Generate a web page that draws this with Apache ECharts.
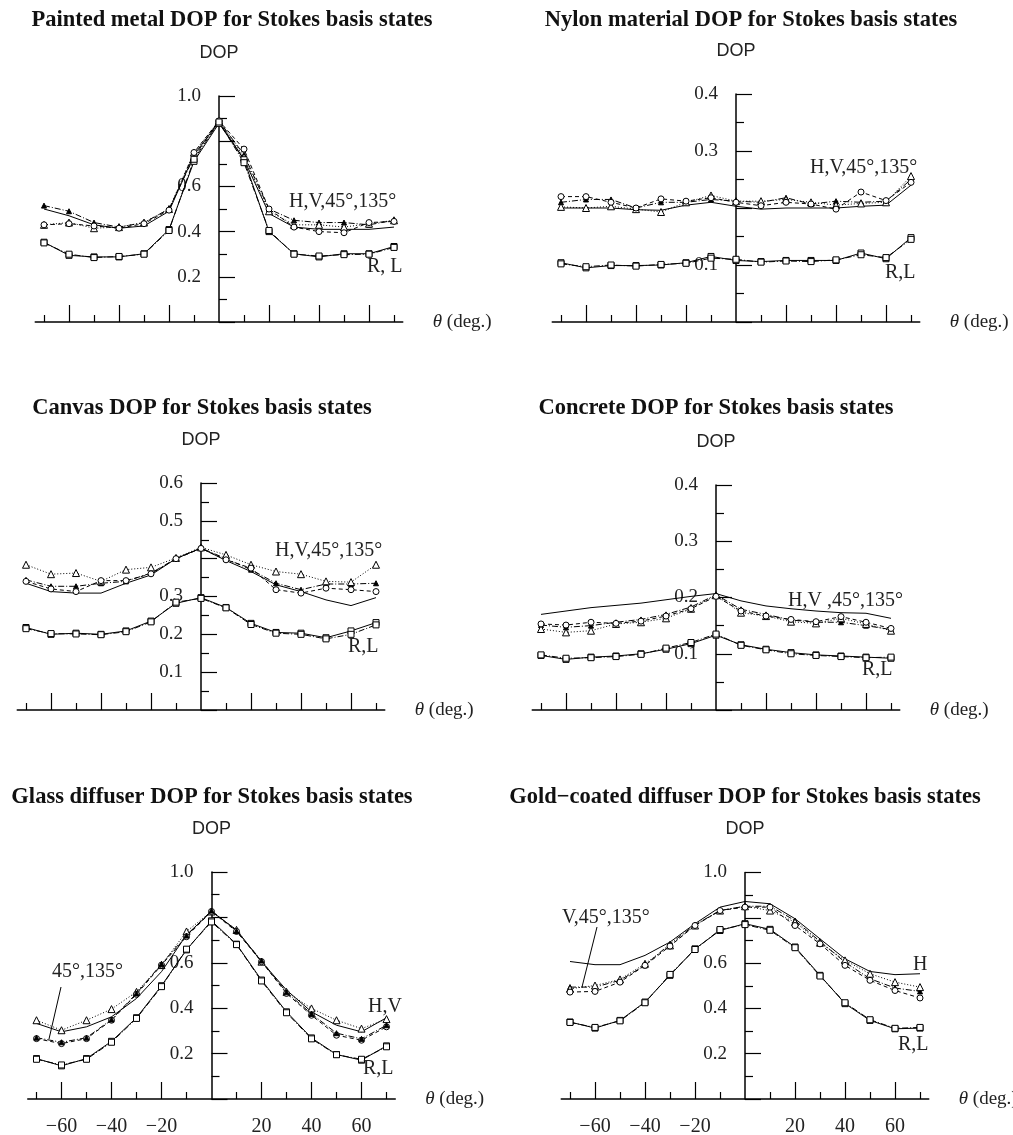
<!DOCTYPE html>
<html>
<head>
<meta charset="utf-8">
<script src="https://cdn.jsdelivr.net/npm/echarts@6/dist/echarts.min.js"></script>
<style>
  html, body { margin: 0; padding: 0; background: #fff; }
  #main { width: 1013px; height: 1135px; }
</style>
</head>
<body>
<div id="main"></div>
<script>
// incidence angle, deg
var theta = [-70, -60, -50, -40, -30, -20, -10, 0, 10, 20, 30, 40, 50, 60, 70];

// painted metal
var paintedH   = [0.500, 0.470, 0.430, 0.415, 0.425, 0.490, 0.740, 0.885, 0.720, 0.480, 0.420, 0.410, 0.410, 0.410, 0.420];
var paintedV   = [0.515, 0.490, 0.440, 0.420, 0.440, 0.500, 0.730, 0.890, 0.740, 0.500, 0.450, 0.440, 0.440, 0.430, 0.450];
var painted45  = [0.430, 0.440, 0.415, 0.420, 0.440, 0.500, 0.750, 0.890, 0.730, 0.490, 0.430, 0.430, 0.420, 0.435, 0.450];
var painted135 = [0.430, 0.435, 0.425, 0.415, 0.435, 0.495, 0.750, 0.890, 0.765, 0.500, 0.420, 0.400, 0.395, 0.440, 0.445];
var paintedR   = [0.353, 0.295, 0.288, 0.288, 0.302, 0.409, 0.711, 0.879, 0.718, 0.400, 0.302, 0.288, 0.302, 0.302, 0.334];
var paintedL   = [0.350, 0.300, 0.285, 0.290, 0.300, 0.405, 0.720, 0.885, 0.705, 0.405, 0.300, 0.292, 0.298, 0.300, 0.330];

// nylon
var nylonH   = [0.200, 0.200, 0.200, 0.197, 0.196, 0.205, 0.210, 0.203, 0.198, 0.200, 0.200, 0.200, 0.203, 0.205, 0.240];
var nylonV   = [0.210, 0.215, 0.215, 0.200, 0.210, 0.210, 0.215, 0.212, 0.210, 0.218, 0.207, 0.212, 0.210, 0.212, 0.250];
var nylon45  = [0.202, 0.200, 0.203, 0.198, 0.193, 0.210, 0.222, 0.212, 0.212, 0.215, 0.210, 0.205, 0.208, 0.210, 0.256];
var nylon135 = [0.220, 0.220, 0.210, 0.200, 0.216, 0.212, 0.218, 0.210, 0.204, 0.210, 0.207, 0.198, 0.228, 0.213, 0.245];
var nylonR   = [0.104, 0.095, 0.099, 0.099, 0.100, 0.104, 0.115, 0.108, 0.106, 0.108, 0.108, 0.108, 0.121, 0.111, 0.148];
var nylonL   = [0.102, 0.097, 0.100, 0.098, 0.101, 0.103, 0.112, 0.110, 0.105, 0.107, 0.106, 0.109, 0.118, 0.113, 0.145];

// canvas
var canvasH   = [0.335, 0.313, 0.309, 0.309, 0.335, 0.357, 0.400, 0.428, 0.395, 0.366, 0.331, 0.313, 0.291, 0.276, 0.297];
var canvasV   = [0.344, 0.327, 0.327, 0.335, 0.340, 0.362, 0.400, 0.428, 0.400, 0.371, 0.335, 0.318, 0.333, 0.333, 0.335];
var canvas45  = [0.384, 0.359, 0.362, 0.340, 0.371, 0.377, 0.402, 0.430, 0.410, 0.384, 0.366, 0.359, 0.340, 0.338, 0.384];
var canvas135 = [0.340, 0.320, 0.313, 0.342, 0.342, 0.360, 0.400, 0.427, 0.397, 0.375, 0.318, 0.309, 0.322, 0.318, 0.313];
var canvasR   = [0.218, 0.200, 0.203, 0.200, 0.209, 0.235, 0.282, 0.297, 0.271, 0.229, 0.205, 0.203, 0.191, 0.209, 0.231];
var canvasL   = [0.215, 0.202, 0.201, 0.199, 0.207, 0.233, 0.285, 0.295, 0.270, 0.226, 0.203, 0.200, 0.188, 0.200, 0.225];

// concrete
var concreteH   = [0.170, 0.176, 0.182, 0.186, 0.190, 0.196, 0.202, 0.207, 0.194, 0.185, 0.180, 0.176, 0.173, 0.172, 0.163];
var concreteV   = [0.151, 0.147, 0.150, 0.156, 0.161, 0.170, 0.183, 0.205, 0.179, 0.170, 0.160, 0.156, 0.156, 0.150, 0.143];
var concrete45  = [0.144, 0.138, 0.141, 0.153, 0.156, 0.163, 0.180, 0.204, 0.173, 0.167, 0.157, 0.154, 0.163, 0.153, 0.141];
var concrete135 = [0.153, 0.151, 0.156, 0.154, 0.158, 0.167, 0.180, 0.202, 0.176, 0.167, 0.161, 0.157, 0.166, 0.156, 0.145];
var concreteR   = [0.097, 0.090, 0.094, 0.096, 0.100, 0.108, 0.118, 0.133, 0.116, 0.108, 0.102, 0.098, 0.096, 0.094, 0.092];
var concreteL   = [0.098, 0.092, 0.093, 0.095, 0.099, 0.110, 0.120, 0.135, 0.115, 0.107, 0.100, 0.097, 0.095, 0.093, 0.094];

// glass diffuser (H,V upper pair, 45°,135° lower pair)
var glassH   = [0.333, 0.296, 0.318, 0.362, 0.443, 0.561, 0.723, 0.826, 0.745, 0.605, 0.480, 0.384, 0.325, 0.296, 0.358];
var glassV   = [0.347, 0.303, 0.347, 0.396, 0.472, 0.590, 0.738, 0.826, 0.745, 0.605, 0.472, 0.399, 0.347, 0.310, 0.352];
var glass45  = [0.266, 0.244, 0.266, 0.347, 0.461, 0.590, 0.715, 0.826, 0.738, 0.605, 0.465, 0.369, 0.281, 0.259, 0.318];
var glass135 = [0.270, 0.250, 0.270, 0.350, 0.465, 0.595, 0.720, 0.830, 0.740, 0.610, 0.470, 0.375, 0.290, 0.265, 0.325];
var glassR   = [0.178, 0.146, 0.178, 0.254, 0.358, 0.499, 0.657, 0.785, 0.682, 0.524, 0.384, 0.269, 0.196, 0.171, 0.234];
var glassL   = [0.175, 0.150, 0.175, 0.250, 0.355, 0.495, 0.660, 0.780, 0.680, 0.520, 0.380, 0.265, 0.195, 0.175, 0.230];

// gold-coated diffuser
var goldH   = [0.607, 0.593, 0.593, 0.634, 0.693, 0.774, 0.847, 0.872, 0.862, 0.796, 0.707, 0.619, 0.563, 0.549, 0.553];
var goldV   = [0.494, 0.494, 0.524, 0.590, 0.685, 0.769, 0.832, 0.851, 0.851, 0.788, 0.696, 0.604, 0.531, 0.490, 0.475];
var gold45  = [0.487, 0.501, 0.528, 0.597, 0.678, 0.766, 0.832, 0.851, 0.832, 0.781, 0.690, 0.612, 0.553, 0.516, 0.494];
var gold135 = [0.472, 0.475, 0.516, 0.590, 0.675, 0.766, 0.832, 0.847, 0.847, 0.766, 0.685, 0.590, 0.524, 0.479, 0.446];
var goldR   = [0.340, 0.313, 0.347, 0.428, 0.546, 0.663, 0.744, 0.774, 0.749, 0.671, 0.546, 0.421, 0.347, 0.310, 0.313];
var goldL   = [0.338, 0.316, 0.345, 0.425, 0.550, 0.660, 0.748, 0.770, 0.745, 0.668, 0.543, 0.425, 0.350, 0.312, 0.316];

var minorTicks = [-70, -50, -30, -10, 10, 30, 50, 70];
var majorTicks = [-60, -40, -20, 20, 40, 60];

var SERIF = '"Liberation Serif","Times New Roman",serif';
var SANS = '"Liberation Sans",Arial,sans-serif';

// line styles / markers
var styles = {
    solid:    {dash: 'solid',      symbol: 'none',     size: 0, fill: '#fff'},
    dashdot:  {dash: [6, 2, 1, 2], symbol: 'triangle', size: 5, fill: '#000'},
    dotTri:   {dash: [1, 2],       symbol: 'triangle', size: 7, fill: '#fff'},
    dashCirc: {dash: [4, 3],       symbol: 'circle',   size: 6, fill: '#fff'},
    sqSolid:  {dash: 'solid',      symbol: 'rect',     size: 6, fill: '#fff'},
    sqDash:   {dash: [6, 2, 1, 2], symbol: 'rect',     size: 6, fill: '#fff'}
};
var names = ['H', 'V', '45°', '135°', 'R', 'L'];
var defaultLook = ['solid', 'dashdot', 'dotTri', 'dashCirc', 'sqSolid', 'sqDash'];
var glassLook = ['solid', 'dotTri', 'dashCirc', 'dashdot', 'sqSolid', 'sqDash'];

// layout of each panel: cx = pixel of theta 0, y0 = pixel of DOP 0, yTop = pixel of yMax
var panels = [
    {title: 'Painted metal DOP for Stokes basis states', tx: 232, ty: 20, cx: 219, y0: 322, yTop: 96, yMax: 1.0, step: 0.2, hide: [0.8], xLabels: false,
        look: defaultLook, data: [paintedH, paintedV, painted45, painted135, paintedR, paintedL]},
    {title: 'Nylon material DOP for Stokes basis states', tx: 751, ty: 20, cx: 736, y0: 322, yTop: 94, yMax: 0.4, step: 0.1, hide: [0.2], xLabels: false,
        look: defaultLook, data: [nylonH, nylonV, nylon45, nylon135, nylonR, nylonL]},
    {title: 'Canvas DOP for Stokes basis states', tx: 202, ty: 408, cx: 201, y0: 710, yTop: 483, yMax: 0.6, step: 0.1, hide: [0.4], xLabels: false,
        look: defaultLook, data: [canvasH, canvasV, canvas45, canvas135, canvasR, canvasL]},
    {title: 'Concrete DOP for Stokes basis states', tx: 716, ty: 408, cx: 716, y0: 710, yTop: 485, yMax: 0.4, step: 0.1, hide: [], xLabels: false,
        look: defaultLook, data: [concreteH, concreteV, concrete45, concrete135, concreteR, concreteL]},
    {title: 'Glass diffuser DOP for Stokes basis states', tx: 212, ty: 797, cx: 211.5, y0: 1099, yTop: 872, yMax: 1.0, step: 0.2, hide: [0.8], xLabels: true,
        look: glassLook, data: [glassH, glassV, glass45, glass135, glassR, glassL]},
    {title: 'Gold\u2212coated diffuser DOP for Stokes basis states', tx: 745, ty: 797, cx: 745, y0: 1099, yTop: 872.5, yMax: 1.0, step: 0.2, hide: [0.8], xLabels: true,
        look: defaultLook, data: [goldH, goldV, gold45, gold135, goldR, goldL]}
];

var XR = 73.5;       // half range of theta axis
var PX_PER_DEG = 2.5;

var grids = [], xAxes = [], yAxes = [], series = [], graphics = [];

panels.forEach(function (p, i) {
    var half = XR * PX_PER_DEG;
    grids.push({
        left: p.cx - half,
        top: p.yTop,
        width: 2 * half,
        height: p.y0 - p.yTop,
        containLabel: false,
        outerBoundsMode: 'none'
    });
    // minor ticks + axis line + name
    xAxes.push({
        type: 'value', gridIndex: i, position: 'bottom', min: -XR, max: XR,
        axisLine: {onZero: false, lineStyle: {color: '#000', width: 1.5}},
        axisTick: {show: true, inside: true, length: 7, customValues: minorTicks, lineStyle: {color: '#000', width: 1.2}},
        axisLabel: {show: false},
        splitLine: {show: false},
        name: '{i|\u03b8} (deg.)',
        nameLocation: 'end',
        nameGap: 30,
        nameTextStyle: {
            fontFamily: SERIF, fontSize: 19, color: '#222',
            rich: {i: {fontFamily: SERIF, fontSize: 19, fontStyle: 'italic', color: '#222'}}
        }
    });
    // major ticks + labels
    xAxes.push({
        type: 'value', gridIndex: i, position: 'bottom', min: -XR, max: XR,
        axisLine: {show: false, onZero: false},
        axisTick: {show: true, inside: true, length: 17, customValues: majorTicks, lineStyle: {color: '#000', width: 1.2}},
        axisLabel: {
            show: p.xLabels, customValues: majorTicks, margin: 18,
            fontFamily: SERIF, fontSize: 20, color: '#222',
            formatter: function (v) { return String(v).replace('-', '\u2212'); }
        },
        splitLine: {show: false}
    });
    // y axis shifted to theta = 0 (labels move with it)
    yAxes.push({
        type: 'value', gridIndex: i, position: 'left', offset: -half, min: 0, max: p.yMax, interval: p.step,
        axisLine: {onZero: false, lineStyle: {color: '#000', width: 1.5}},
        axisTick: {show: true, inside: true, length: 16, lineStyle: {color: '#000', width: 1.2}},
        minorTick: {show: true, splitNumber: 2, length: 8, lineStyle: {color: '#000', width: 1.2}},
        axisLabel: {
            margin: 18, fontFamily: SERIF, fontSize: 19, color: '#222',
            formatter: function (v) {
                if (v === 0) return '';
                for (var k = 0; k < p.hide.length; k++) {
                    if (Math.abs(v - p.hide[k]) < 1e-6) return '';
                }
                return v.toFixed(1);
            }
        },
        splitLine: {show: false},
        minorSplitLine: {show: false},
        name: 'DOP',
        nameLocation: 'end',
        nameGap: 34,
        nameTextStyle: {fontFamily: SANS, fontSize: 18, color: '#222'}
    });
    p.data.forEach(function (arr, k) {
        var s = styles[p.look[k]];
        series.push({
            name: names[k],
            type: 'line',
            xAxisIndex: 2 * i,
            yAxisIndex: i,
            data: theta.map(function (t, j) { return [t, arr[j]]; }),
            symbol: s.symbol,
            symbolSize: s.size,
            showSymbol: s.symbol !== 'none',
            lineStyle: {color: '#000', width: 1, type: s.dash},
            itemStyle: {color: s.fill, borderColor: '#000', borderWidth: 1},
            emphasis: {disabled: true},
            z: 3
        });
    });
    graphics.push({
        type: 'text', x: p.tx, y: p.ty,
        style: {
            text: p.title, font: 'bold 22.5px ' + SERIF, fill: '#111',
            textAlign: 'center', textVerticalAlign: 'middle', align: 'center', verticalAlign: 'middle'
        }
    });
});

// curve annotations: [text, left, centre y]
var notes = [
    ['H,V,45°,135°', 289, 202], ['R, L', 367, 267],
    ['H,V,45°,135°', 810, 168], ['R,L', 885, 273],
    ['H,V,45°,135°', 275, 551], ['R,L', 348, 647],
    ['H,V ,45°,135°', 788, 601], ['R,L', 862, 670],
    ['45°,135°', 52, 972], ['H,V', 368, 1007], ['R,L', 363, 1069],
    ['V,45°,135°', 562, 918], ['H', 913, 965], ['R,L', 898, 1045]
];
notes.forEach(function (n) {
    graphics.push({
        type: 'text', x: n[1], y: n[2], z: 10,
        style: {
            text: n[0], font: '20px ' + SERIF, fill: '#222',
            textAlign: 'left', textVerticalAlign: 'middle', align: 'left', verticalAlign: 'middle'
        }
    });
});
// leader lines
graphics.push({type: 'line', shape: {x1: 61, y1: 987, x2: 49, y2: 1039}, style: {stroke: '#000', lineWidth: 1}});
graphics.push({type: 'line', shape: {x1: 597, y1: 927, x2: 582, y2: 987}, style: {stroke: '#000', lineWidth: 1}});

var chart = echarts.init(document.getElementById('main'));
chart.setOption({
    backgroundColor: '#fff',
    animation: false,
    grid: grids,
    xAxis: xAxes,
    yAxis: yAxes,
    series: series,
    graphic: graphics
});
</script>
</body>
</html>
